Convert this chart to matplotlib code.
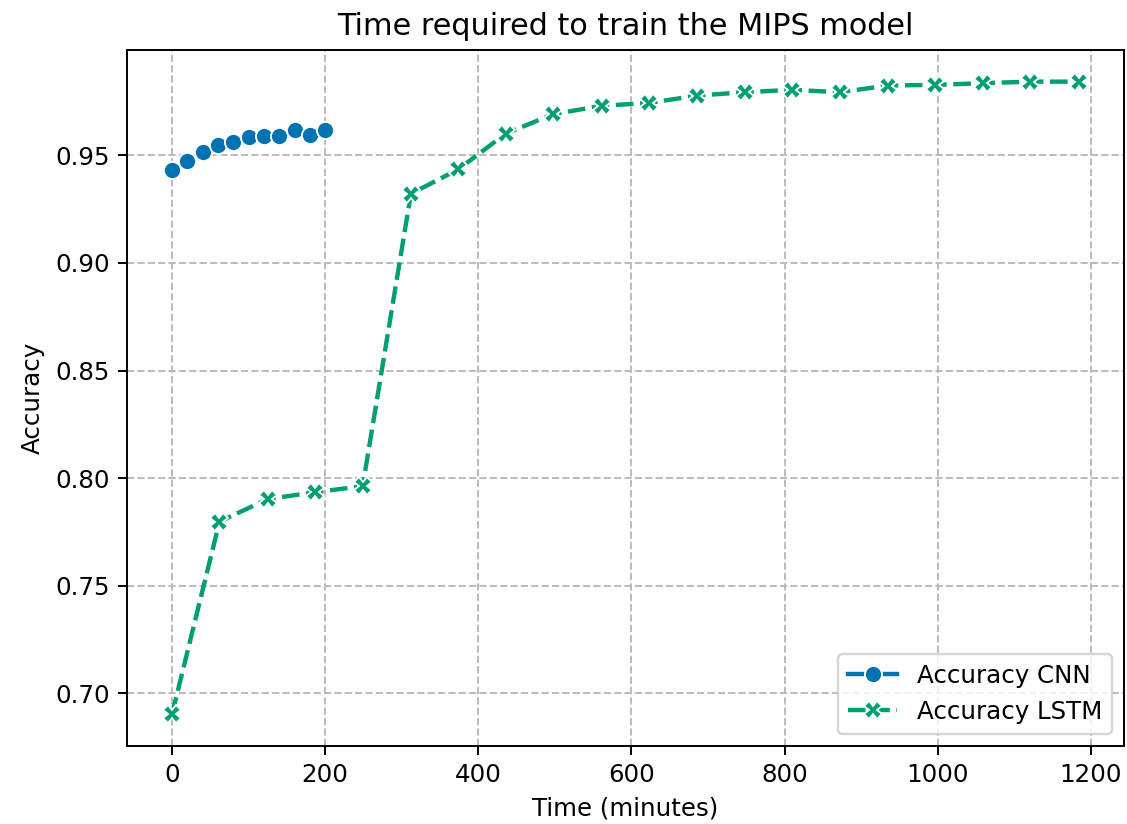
import matplotlib
matplotlib.use("Agg")
import matplotlib.pyplot as plt

# CNN: evaluated every 20 minutes
cnn_time = [0, 20, 40, 60, 80, 100, 120, 140, 160, 180, 200]
cnn_acc = [0.9432, 0.9472, 0.9515, 0.9549, 0.9563, 0.9585,
           0.9590, 0.9590, 0.9616, 0.9596, 0.9616]

# LSTM: evaluated roughly every 62 minutes
lstm_time = [0, 62, 125, 187, 249, 312, 374, 436, 498, 561,
             623, 685, 748, 810, 872, 935, 997, 1059, 1121, 1184]
lstm_acc = [0.6903, 0.7798, 0.7903, 0.7935, 0.7963, 0.9321, 0.9435,
            0.9601, 0.9691, 0.9730, 0.9743, 0.9777, 0.9793, 0.9804,
            0.9793, 0.9824, 0.9827, 0.9835, 0.9842, 0.9842]

blue = "#0072B2"
green = "#009E73"

dpi = 176
fig, ax = plt.subplots(figsize=(1127 / dpi, 824 / dpi), dpi=dpi)
fig.subplots_adjust(left=0.1124, right=0.9973, top=0.9393, bottom=0.0947)

ax.plot(cnn_time, cnn_acc, color=blue, linewidth=1.8, marker="o",
        markersize=7, markeredgecolor="white", markeredgewidth=0.75,
        label="Accuracy CNN")
ax.plot(lstm_time, lstm_acc, color=green, linewidth=1.8, marker="X",
        markersize=7, markeredgecolor="white", markeredgewidth=0.75,
        dashes=(4, 1.5), label="Accuracy LSTM")

ax.grid(True, linestyle="--", color="#bbbbbb", linewidth=0.8)
ax.set_axisbelow(True)
ax.set_title("Time required to train the MIPS model", fontsize=12.4)
ax.set_xlabel("Time (minutes)")
ax.set_ylabel("Accuracy")
ax.legend(loc="lower right")

fig.savefig("out.png", dpi=dpi)
